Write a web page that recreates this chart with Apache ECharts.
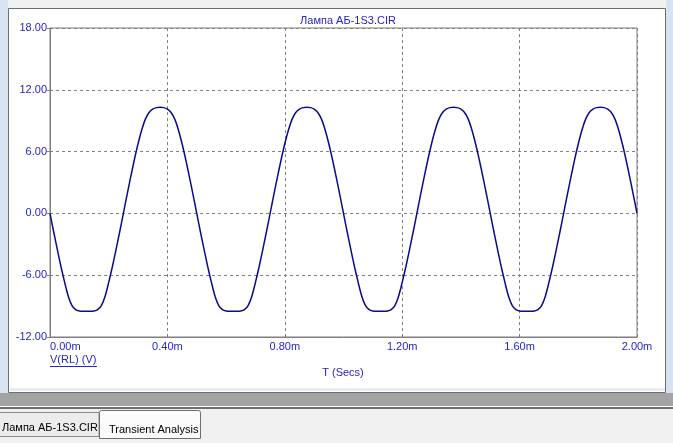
<!DOCTYPE html>
<html><head><meta charset="utf-8">
<script src="https://cdn.jsdelivr.net/npm/echarts@6/dist/echarts.min.js"></script>
<style>html,body{margin:0;padding:0;background:#f0f0f0;}#c{width:673px;height:443px;}</style>
</head><body><div id="c"></div>
<script>
// ---- data ----
const title = 'Лампа АБ-1S3.CIR';
const yLabel = 'V(RL) (V)';
const xLabel = 'T (Secs)';
const xTicks = [0, 0.4, 0.8, 1.2, 1.6, 2.0];        // ms
const yTicks = [-12, -6, 0, 6, 12, 18];              // V
const timeStep = 0.0125;                               // ms between samples
const vRL = [
  0,-1.78,-3.52,-5.18,-6.70,-8.06,-8.95,-9.35,-9.48,-9.50,-9.50,-9.50,-9.48,-9.35,-8.95,-8.06,-6.70,-5.18,-3.52,-1.78,
  0,1.80,3.55,5.22,6.76,8.10,9.15,9.80,10.12,10.27,10.30,10.27,10.12,9.80,9.15,8.10,6.76,5.22,3.55,1.80,
  0,-1.78,-3.52,-5.18,-6.70,-8.06,-8.95,-9.35,-9.48,-9.50,-9.50,-9.50,-9.48,-9.35,-8.95,-8.06,-6.70,-5.18,-3.52,-1.78,
  0,1.80,3.55,5.22,6.76,8.10,9.15,9.80,10.12,10.27,10.30,10.27,10.12,9.80,9.15,8.10,6.76,5.22,3.55,1.80,
  0,-1.78,-3.52,-5.18,-6.70,-8.06,-8.95,-9.35,-9.48,-9.50,-9.50,-9.50,-9.48,-9.35,-8.95,-8.06,-6.70,-5.18,-3.52,-1.78,
  0,1.80,3.55,5.22,6.76,8.10,9.15,9.80,10.12,10.27,10.30,10.27,10.12,9.80,9.15,8.10,6.76,5.22,3.55,1.80,
  0,-1.78,-3.52,-5.18,-6.70,-8.06,-8.95,-9.35,-9.48,-9.50,-9.50,-9.50,-9.48,-9.35,-8.95,-8.06,-6.70,-5.18,-3.52,-1.78,
  0,1.80,3.55,5.22,6.76,8.10,9.15,9.80,10.12,10.27,10.30,10.27,10.12,9.80,9.15,8.10,6.76,5.22,3.55,1.80,
  0
];
const tabNames = ['Лампа АБ-1S3.CIR', 'Transient Analysis'];
// -------------------------------------

const pts = vRL.map((v, i) => [+(i * timeStep).toFixed(4), v]);
const blue = '#2424c8';
const font = '"Liberation Sans", Arial, sans-serif';
const chart = echarts.init(document.getElementById('c'), null, {renderer: 'canvas'});
chart.setOption({
  backgroundColor: '#f0f0f0',
  animation: false,
  title: {text: title, left: 343, top: 10, textAlign: 'center',
    textStyle: {color: blue, fontSize: 11, fontWeight: 'normal', fontFamily: font}},
  grid: {left: 50, top: 28, right: 36, bottom: 106, show: true, borderColor: '#7f7f7f', borderWidth: 1},
  xAxis: {
    type: 'value', min: xTicks[0], max: xTicks[xTicks.length - 1], interval: 0.4,
    axisLine: {show: true, onZero: false, lineStyle: {color: '#7f7f7f', width: 1}},
    axisTick: {show: false},
    axisLabel: {color: blue, fontSize: 11, fontFamily: font, margin: 4, alignMinLabel: 'left',
      formatter: v => v.toFixed(2) + 'm'},
    splitLine: {show: true, lineStyle: {color: '#808080', type: [3, 3], width: 1}}
  },
  yAxis: {
    type: 'value', min: yTicks[0], max: yTicks[yTicks.length - 1], interval: 6,
    axisLine: {show: true, onZero: false, lineStyle: {color: '#7f7f7f', width: 1}},
    axisTick: {show: true, length: 3, lineStyle: {color: '#7f7f7f'}},
    axisLabel: {color: blue, fontSize: 11, fontFamily: font, margin: 3,
      formatter: v => v.toFixed(2)},
    splitLine: {show: true, lineStyle: {color: '#808080', type: [3, 3], width: 1}}
  },
  series: [{
    type: 'line', data: pts, showSymbol: false, smooth: 0.3,
    lineStyle: {color: '#0a0a8c', width: 1.5}, z: 5
  }],
  graphic: [
    // outer frame strips
    {type: 'rect', shape: {x: 0, y: 0, width: 8, height: 393}, style: {fill: '#d7e3f1'}, z: -10},
    {type: 'rect', shape: {x: 666, y: 0, width: 7, height: 393}, style: {fill: '#d7e3f1'}, z: -10},
    {type: 'rect', shape: {x: 8.5, y: 8.5, width: 657, height: 384}, style: {fill: '#ffffff', stroke: '#6e6e6e', lineWidth: 1}, z: -9},
    {type: 'rect', shape: {x: 10, y: 388, width: 655, height: 3}, style: {fill: '#e4ecf5'}, z: -8},
    // gray bar
    {type: 'rect', shape: {x: 0, y: 393, width: 673, height: 13}, style: {fill: '#a3a3a3'}, z: -8},
    {type: 'rect', shape: {x: 0, y: 406, width: 673, height: 1}, style: {fill: '#ffffff'}, z: -8},
    {type: 'rect', shape: {x: 0, y: 407, width: 673, height: 2}, style: {fill: '#6e6e6e'}, z: -8},
    // tabs
    {type: 'rect', shape: {x: -1, y: 412.5, width: 100, height: 24}, style: {fill: '#ececec', stroke: '#8c8c8c', lineWidth: 1}, z: 10},
    {type: 'text', style: {text: tabNames[0], x: 2, y: 422, fill: '#000000', font: '11px ' + font}, z: 11},
    {type: 'rect', shape: {x: 99.5, y: 410.5, width: 101, height: 28, r: [2, 2, 0, 0]}, style: {fill: '#fbfbfb', stroke: '#6e6e6e', lineWidth: 1}, z: 10},
    {type: 'text', style: {text: tabNames[1], x: 109, y: 424, fill: '#000000', font: '11px ' + font}, z: 11},
    // axis titles
    {type: 'text', style: {text: yLabel, x: 50, y: 354, fill: blue, font: '11px ' + font}, z: 11},
    {type: 'line', shape: {x1: 50, y1: 366.5, x2: 97, y2: 366.5}, style: {stroke: blue, lineWidth: 1}, z: 11},
    {type: 'text', style: {text: xLabel, x: 343, y: 367, fill: blue, font: '11px ' + font, textAlign: 'center'}, z: 11}
  ]
});
</script></body></html>
